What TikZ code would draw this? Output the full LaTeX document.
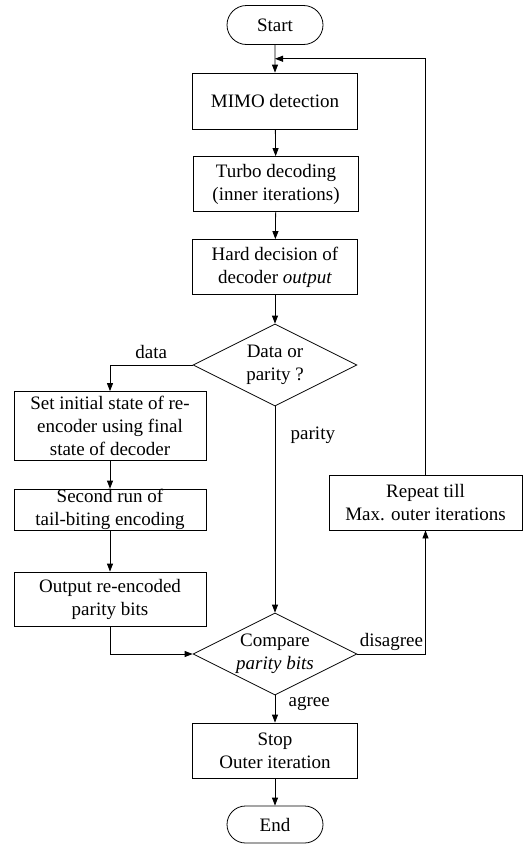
\documentclass[tikz,border=0pt]{standalone}
\usepackage{fontspec}
\setmainfont{Liberation Serif}
\usetikzlibrary{calc,arrows.meta,shapes.geometric,shapes.misc}

\begin{document}
\begin{tikzpicture}[x=1pt,y=-1pt,line width=0.8pt,
    every node/.style={font=\fontsize{19}{23}\selectfont},
    proc/.style={draw,align=center,inner sep=0pt,minimum width=165pt,minimum height=55pt},
    term/.style={draw,rounded rectangle,inner sep=0pt,minimum width=96pt,minimum height=39pt},
    decision/.style={draw,diamond,inner sep=0pt,minimum width=164pt,minimum height=82pt},
    arr/.style={-{Triangle[length=8pt,width=6pt]}}]
  \useasboundingbox (0,0) rectangle (525,846);
  \node[term] (start) at (275,25) {Start};
  \node[proc,minimum height=56pt] (mimo) at (275,101) {MIMO detection};
  \node[proc] (turbo) at (276,184) {Turbo decoding\\(inner iterations)};
  \node[proc] (hard) at (275,267) {Hard decision of\\decoder \textit{output}};
  \node[decision,label={[align=center]center:{Data or\\parity ?}}] (dp) at (275,365) {};
  \node[proc,minimum width=192pt,minimum height=69pt] (init) at (110,426) {Set initial state of re-\\encoder using final\\state of decoder};
  \node[proc,minimum width=192pt,minimum height=41pt] (run) at (110,509.5) {Second run of\\tail-biting encoding};
  \node[proc,minimum width=192pt,minimum height=54pt] (out) at (110,599) {Output re-encoded\\parity bits};
  \node[decision,label={[align=center]center:{Compare\\\textit{parity bits}}}] (cmp) at (275,654) {};
  \node[proc,minimum width=193pt] (rep) at (425.5,502.5) {Repeat till\\Max. outer iterations};
  \node[proc] (stop) at (275,750.5) {Stop\\Outer iteration};
  \node[term,minimum height=37pt] (end) at (275,824.5) {End};

  \draw[arr] (start) -- (mimo);
  \draw[arr] (mimo) -- (turbo);
  \draw[arr] (turbo) -- (hard);
  \draw[arr] (hard) -- (dp);
  \draw[arr] (dp.west) -| (init.north) node[pos=0.25,above=3pt] {data};
  \draw[arr] (init) -- (run);
  \draw[arr] (run) -- (out);
  \draw[arr] (dp.south) -- (cmp.north) node[pos=0.14,right=12pt] {parity};
  \draw[arr] (out.south) |- (cmp.west);
  \draw[arr] (cmp.east) -| (rep.south) node[pos=0.25,above] {disagree};
  \draw[arr] (rep.north) |- ($(start.south)!0.5!(mimo.north)$);
  \draw[arr] (cmp.south) -- (stop.north) node[pos=0.3,right=10pt] {agree};
  \draw[arr] (stop) -- (end);
\end{tikzpicture}
\end{document}
